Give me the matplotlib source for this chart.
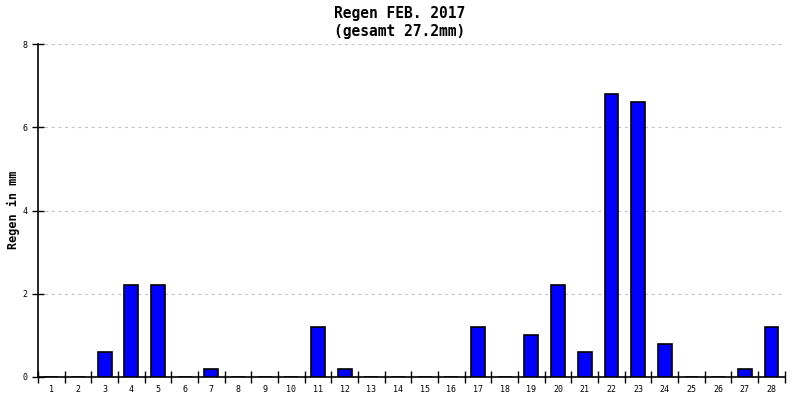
import matplotlib
matplotlib.use('Agg')
import matplotlib.pyplot as plt
import numpy as np

# rain per day, Feb 2017
days = list(range(1, 29))
rain = [0, 0, 0.6, 2.2, 2.2, 0, 0.2, 0, 0, 0,
        1.2, 0.2, 0, 0, 0, 0, 1.2, 0, 1.0, 2.2,
        0.6, 6.8, 6.6, 0.8, 0, 0, 0.2, 1.2]
yticks = [0, 2, 4, 6, 8]

total = round(sum(rain), 1)

plt.rcParams['font.family'] = 'DejaVu Sans Mono'

fig = plt.figure(figsize=(8, 4), dpi=100)
ax = fig.add_axes([0.0475, 0.0575, 0.9335, 0.8325])

x = np.arange(len(days))
ax.bar(x, rain, width=0.52, color='#0000ff', edgecolor='black', linewidth=1.2, zorder=3)

ax.set_xlim(-0.5, len(days) - 0.5)
ax.set_ylim(0, 8)

# ticks sit on category boundaries, labels in the middle
ax.set_xticks(np.arange(len(days) + 1) - 0.5)
ax.set_xticklabels([])
ax.set_xticks(x, minor=True)
ax.set_xticklabels([str(d) for d in days], minor=True, fontsize=6)
ax.tick_params(axis='x', which='major', direction='inout', length=8, width=1)
ax.tick_params(axis='x', which='minor', length=0, pad=6)

ax.set_yticks(yticks)
ax.set_yticklabels([str(v) for v in yticks], fontsize=6)
ax.tick_params(axis='y', direction='inout', length=9, width=1, pad=3)

ax.yaxis.grid(True, linestyle=(0, (2.5, 3.5)), color='#c0c0c0', linewidth=0.8, zorder=0)
ax.set_axisbelow(True)

for s in ['top', 'right']:
    ax.spines[s].set_visible(False)
for s in ['left', 'bottom']:
    ax.spines[s].set_linewidth(1.2)

fig.text(13 / 800, 0.475, 'Regen in mm', rotation=90, ha='center', va='center',
         fontsize=8.5, fontweight='bold')

fig.text(0.5, 0.967, 'Regen FEB. 2017', ha='center', va='center', fontsize=10.5, fontweight='bold')
fig.text(0.5, 0.922, f'(gesamt {total}mm)', ha='center', va='center', fontsize=10.5, fontweight='bold')

fig.savefig('out.png', dpi=100)
